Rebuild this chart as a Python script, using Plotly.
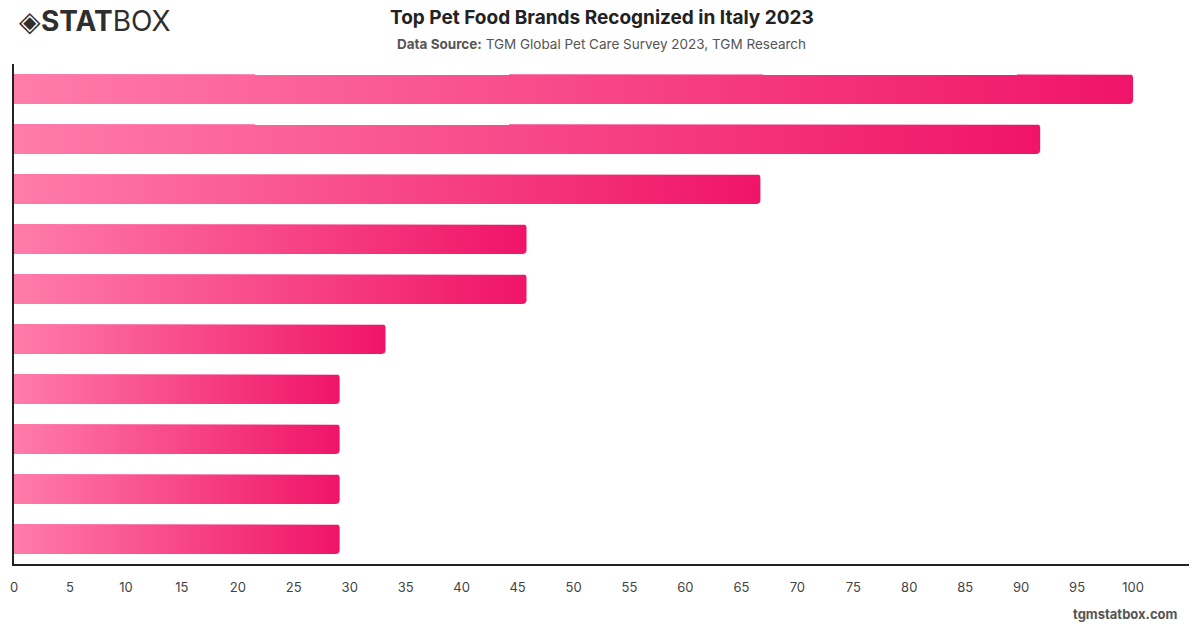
import numpy as np
import plotly.graph_objects as go

# ---- data ----
brands = ["Brand 1", "Brand 2", "Brand 3", "Brand 4", "Brand 5",
          "Brand 6", "Brand 7", "Brand 8", "Brand 9", "Brand 10"]
values = [100.0, 91.7, 66.7, 45.8, 45.8, 33.2, 29.1, 29.1, 29.1, 29.1]
tick_values = list(range(0, 101, 5))
tick_labels = [str(v) for v in tick_values]

title_text = "Top Pet Food Brands Recognized in Italy 2023"
source_text = "<b>Data Source:</b> TGM Global Pet Care Survey 2023, TGM Research"

# ---- styling ----
LEFT_COLOR = "#ff7ca9"
RIGHT_COLOR = "#f01468"
BAR_HALF = 0.3
X_MAX = 105
FONT = "Inter, Roboto, sans-serif"

W, H = 1200, 628
M_L, M_R, M_T, M_B = 10, 11, 64, 64
PLOT_W = W - M_L - M_R
PLOT_H = H - M_T - M_B
px_per_x = PLOT_W / X_MAX
px_per_y = PLOT_H / len(brands)
rx = 3.5 / px_per_x
ry = 3.5 / px_per_y


def px_x(x):
    return (x - M_L) / PLOT_W


def px_y(y):
    return (H - M_B - y) / PLOT_H


def bar_path(v, yc):
    xs, ys = [0, v - rx], [yc - BAR_HALF, yc - BAR_HALF]
    for a in np.linspace(-np.pi / 2, 0, 6)[1:]:
        xs.append(v - rx + rx * np.cos(a))
        ys.append(yc - BAR_HALF + ry + ry * np.sin(a))
    xs.append(v)
    ys.append(yc + BAR_HALF - ry)
    for a in np.linspace(0, np.pi / 2, 6)[1:]:
        xs.append(v - rx + rx * np.cos(a))
        ys.append(yc + BAR_HALF - ry + ry * np.sin(a))
    xs += [0, 0]
    ys += [yc + BAR_HALF, yc - BAR_HALF]
    return xs, ys


fig = go.Figure()
for i, (name, v) in enumerate(zip(brands, values)):
    xs, ys = bar_path(v, i)
    fig.add_trace(go.Scatter(
        x=xs, y=ys, mode="lines", line=dict(width=0),
        fill="toself",
        fillgradient=dict(type="horizontal",
                          colorscale=[[0, LEFT_COLOR], [1, RIGHT_COLOR]]),
        name=name, hoverinfo="skip", showlegend=False,
    ))

fig.update_layout(
    width=W, height=H,
    margin=dict(l=M_L, r=M_R, t=M_T, b=M_B),
    paper_bgcolor="white", plot_bgcolor="white",
    font=dict(family=FONT, color="#333"),
    xaxis=dict(range=[0, X_MAX], tickmode="array", tickvals=tick_values,
               ticktext=tick_labels, showgrid=False, zeroline=False,
               showline=True, linecolor="#222", linewidth=1.5,
               ticks="outside", ticklen=11, tickcolor="rgba(0,0,0,0)",
               tickfont=dict(size=13, color="#444", family=FONT)),
    yaxis=dict(range=[len(brands) - 0.5, -0.5], showgrid=False,
               zeroline=False, showticklabels=False,
               showline=True, linecolor="#222", linewidth=1.5),
    annotations=[
        dict(text=f"<b>{title_text}</b>", x=px_x(600), y=px_y(18),
             xref="paper", yref="paper", xanchor="center", yanchor="middle",
             showarrow=False, font=dict(size=19, color="#222", family=FONT)),
        dict(text=source_text, x=px_x(600), y=px_y(44),
             xref="paper", yref="paper", xanchor="center", yanchor="middle",
             showarrow=False, font=dict(size=13.5, color="#555", family=FONT)),
        dict(text="◈<b>STAT</b>BOX", x=px_x(13), y=px_y(21),
             xref="paper", yref="paper", xanchor="left", yanchor="middle",
             showarrow=False, font=dict(size=28, color="#2e2e2e", family=FONT)),
        dict(text="<b>tgmstatbox.com</b>", x=px_x(1180), y=px_y(614),
             xref="paper", yref="paper", xanchor="right", yanchor="middle",
             showarrow=False, font=dict(size=13, color="#555", family=FONT)),
    ],
)

fig.write_html("out.html")
